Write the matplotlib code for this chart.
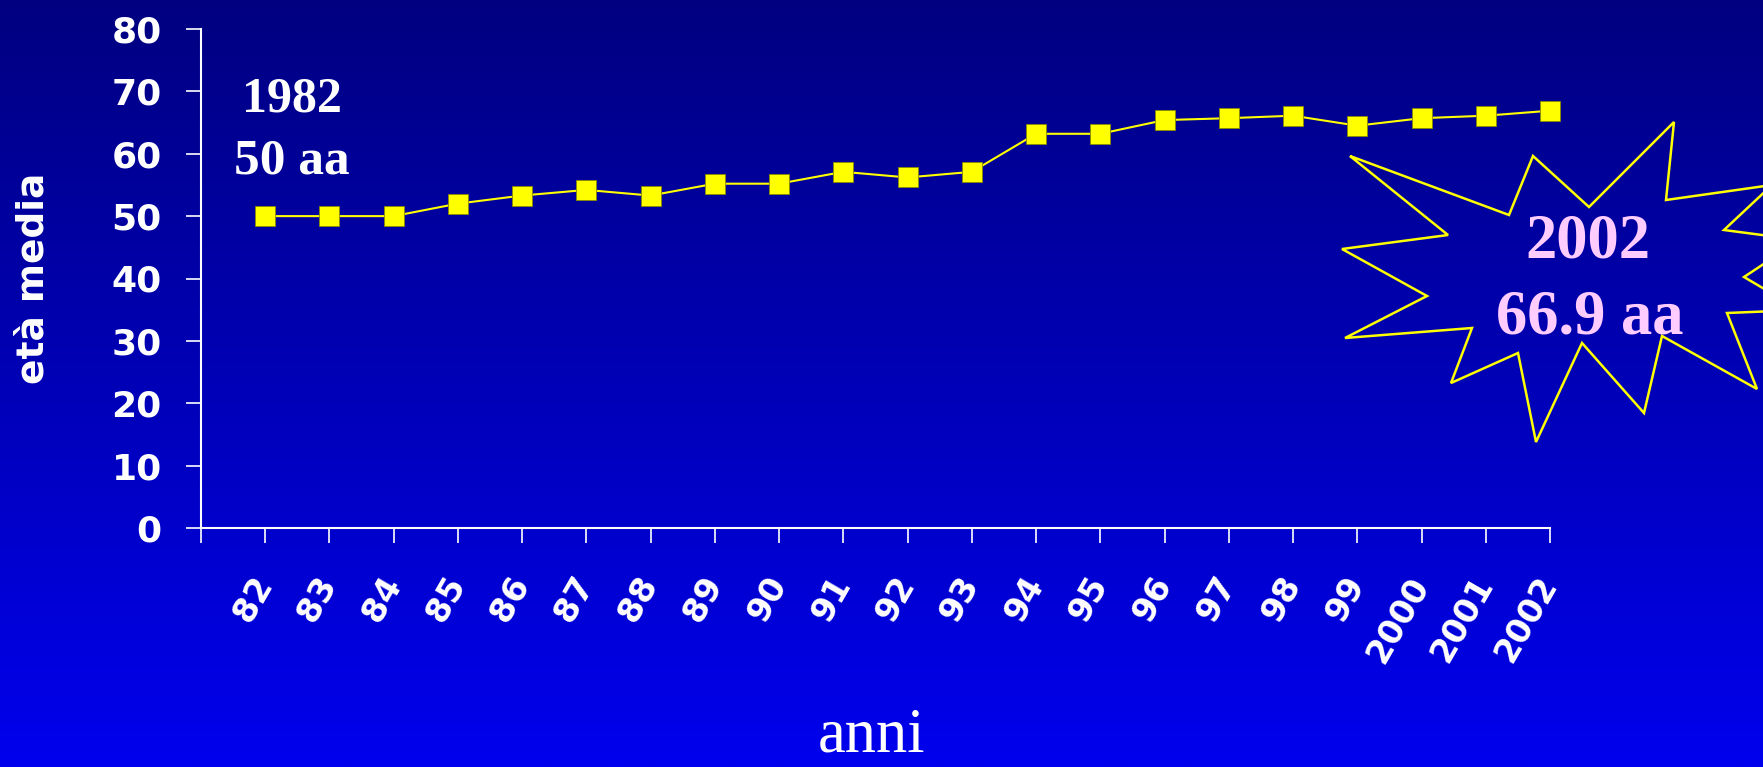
import numpy as np
import matplotlib
matplotlib.use("Agg")
import matplotlib.pyplot as plt
from matplotlib.patches import Polygon
from matplotlib.colors import LinearSegmentedColormap

# data
anni = ['82', '83', '84', '85', '86', '87', '88', '89', '90', '91', '92',
        '93', '94', '95', '96', '97', '98', '99', '2000', '2001', '2002']
eta_media = [50, 50, 50, 52, 53.3, 54.2, 53.3, 55.2, 55.2, 57.1, 56.2,
             57.1, 63.2, 63.2, 65.4, 65.7, 66.1, 64.5, 65.7, 66.1, 66.9]
y_ticks = [0, 10, 20, 30, 40, 50, 60, 70, 80]

W, H = 1763, 767
fig = plt.figure(figsize=(W / 100, H / 100), dpi=100)

# vertical blue gradient background
bg = fig.add_axes([0, 0, 1, 1], zorder=-10)
cmap = LinearSegmentedColormap.from_list('bg', ['#000080', '#0000ee'])
bg.imshow(np.linspace(0, 1, 256).reshape(-1, 1), aspect='auto', cmap=cmap,
          extent=[0, 1, 0, 1], origin='upper')
bg.axis('off')

ax = fig.add_axes([200.75 / W, 1 - 528 / H, 1349.25 / W, 499 / H])
ax.set_facecolor('none')
x = np.arange(len(anni))
ax.plot(x, eta_media, color='#ffff00', lw=1.5, marker='s', markersize=15,
        markerfacecolor='#ffff00', markeredgecolor='#8a8a00', markeredgewidth=0.6,
        clip_on=False, zorder=5)

ax.set_xlim(-1, len(anni) - 1)
ax.set_ylim(0, 80)
ax.set_yticks(y_ticks)
ax.set_xticks(np.arange(-1, len(anni)))
ax.set_xticklabels([''] + anni)

for s in ['top', 'right']:
    ax.spines[s].set_visible(False)
for s in ['left', 'bottom']:
    ax.spines[s].set_color('white')
    ax.spines[s].set_linewidth(1.5)

ax.tick_params(axis='both', colors='white', length=11, width=1.2, direction='out')
ax.tick_params(axis='y', pad=17, labelsize=26)
ax.tick_params(axis='x', pad=26, labelsize=24)
for t in ax.get_yticklabels():
    t.set_fontweight('bold')
for t in ax.get_xticklabels():
    t.set_fontweight('bold')
    t.set_rotation(60)
    t.set_ha('right')
    t.set_va('center')
    t.set_rotation_mode('anchor')

ax.set_ylabel('età media', color='white', fontsize=27, fontweight='bold', va='center')
ax.yaxis.set_label_coords(34 / W, 1 - 278 / H, transform=fig.transFigure)

fig.text(872 / W, 1 - 736 / H, 'anni', color='white', fontsize=45,
         family='Liberation Serif', ha='center', va='center')

# 1982 annotation
fig.text(292 / W, 1 - 99 / H, '1982', color='white', fontsize=36,
         family='Liberation Serif', fontweight='bold', ha='center', va='center')
fig.text(292 / W, 1 - 162 / H, '50 aa', color='white', fontsize=37,
         family='Liberation Serif', fontweight='bold', ha='center', va='center')

# explosion shape on the right
star = [(1350, 156), (1509, 215), (1533, 156), (1589, 207), (1674, 122),
        (1666, 200), (1772, 185), (1724, 230), (1800, 240), (1744, 277),
        (1800, 310), (1727, 313), (1757, 389), (1662, 336), (1644, 413),
        (1582, 343), (1536, 442), (1518, 353), (1451, 383), (1472, 328),
        (1345, 338), (1427, 296), (1342, 249), (1448, 235)]
pts = [(px / W, 1 - py / H) for px, py in star]
fig.add_artist(Polygon(pts, closed=True, fill=False, edgecolor='#ffff00',
                       lw=1.8, transform=fig.transFigure))

fig.text(1588 / W, 1 - 242 / H, '2002', color='#ffccff', fontsize=45,
         family='Liberation Serif', fontweight='bold', ha='center', va='center')
fig.text(1590 / W, 1 - 318 / H, '66.9 aa', color='#ffccff', fontsize=45,
         family='Liberation Serif', fontweight='bold', ha='center', va='center')

fig.savefig('out.png', dpi=100)
